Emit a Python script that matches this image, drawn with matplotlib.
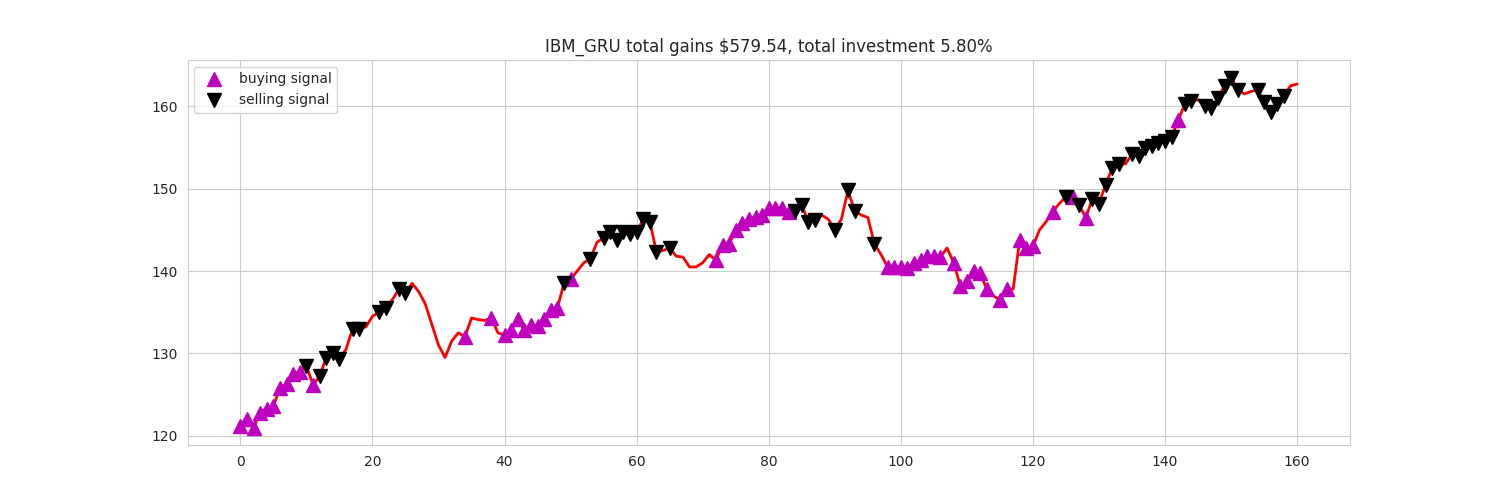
import matplotlib
matplotlib.use('Agg')
import matplotlib.pyplot as plt
import seaborn as sns

sns.set_style('whitegrid')

close = [121.2, 122, 121, 122.8, 123.3, 123.6, 125.8, 126.3, 127.5, 127.8,
         128.5, 126.2, 127.2, 129.5, 130, 129.3, 130.5, 133, 133, 133.2,
         134.5, 135, 135.5, 136.5, 137.8, 137.3, 138.5, 137.5, 136, 133.5,
         131, 129.5, 131.5, 132.5, 132, 134.3, 134.1, 134, 134.3, 132.5,
         132.2, 132.8, 134.2, 132.8, 133.5, 133.3, 134.2, 135.3, 135.5, 138.5,
         139, 140, 141, 141.5, 143.5, 144, 144.8, 143.8, 144.8, 144.5,
         144.7, 146.3, 146, 142.3, 142.5, 142.8, 141.8, 141.7, 140.5, 140.5,
         141, 142, 141.3, 143.2, 143.3, 145, 145.8, 146.3, 146.6, 146.8,
         147.7, 147.7, 147.7, 147.2, 147.3, 148, 146, 146.2, 146.8, 146.3,
         145, 146.3, 149.8, 147.3, 146.8, 146.5, 143.3, 142, 140.5, 140.5,
         140.5, 140.4, 141, 141.3, 141.8, 141.8, 141.7, 142.8, 141, 138.2,
         138.8, 140, 139.8, 137.8, 137, 136.5, 137.8, 137.8, 143.8, 142.8,
         143, 145, 146, 147.2, 148.2, 149, 149, 148, 146.5, 148.8,
         148.2, 150.5, 152.5, 153, 153, 154.2, 154, 155, 155.2, 155.5,
         155.8, 156.3, 158.3, 160.3, 160.7, 160.8, 160, 159.8, 161, 162.5,
         163.5, 162, 161.5, 161.8, 162, 160.5, 159.3, 160.3, 161.3, 162.5,
         162.7]

states_buy = [0, 1, 2, 3, 4, 5, 6, 7, 8, 9, 11, 34, 38, 40, 41, 42, 43, 44, 45,
              46, 47, 48, 50, 72, 73, 74, 75, 76, 77, 78, 79, 80, 81, 82, 83,
              98, 99, 100, 101, 102, 103, 104, 105, 106, 108, 109, 110, 111,
              112, 113, 115, 116, 118, 119, 120, 123, 126, 128, 142]
states_sell = [10, 12, 13, 14, 15, 17, 18, 21, 22, 24, 25, 49, 53, 55, 56, 57,
               58, 59, 60, 61, 62, 63, 65, 84, 85, 86, 87, 90, 92, 93, 96, 125,
               127, 129, 130, 131, 132, 133, 135, 136, 137, 138, 139, 140, 141,
               143, 144, 146, 147, 148, 149, 150, 151, 154, 155, 156, 157, 158]

total_gains = 579.54
invest = 5.80

fig = plt.figure(figsize=(15, 5))
plt.plot(close, color='r', lw=2.)
plt.plot(close, '^', markersize=10, color='m', label='buying signal', markevery=states_buy)
plt.plot(close, 'v', markersize=10, color='k', label='selling signal', markevery=states_sell)
plt.title('IBM_GRU total gains $%.2f, total investment %.2f%%' % (total_gains, invest))
plt.legend()
plt.savefig('out.png', dpi=100)
